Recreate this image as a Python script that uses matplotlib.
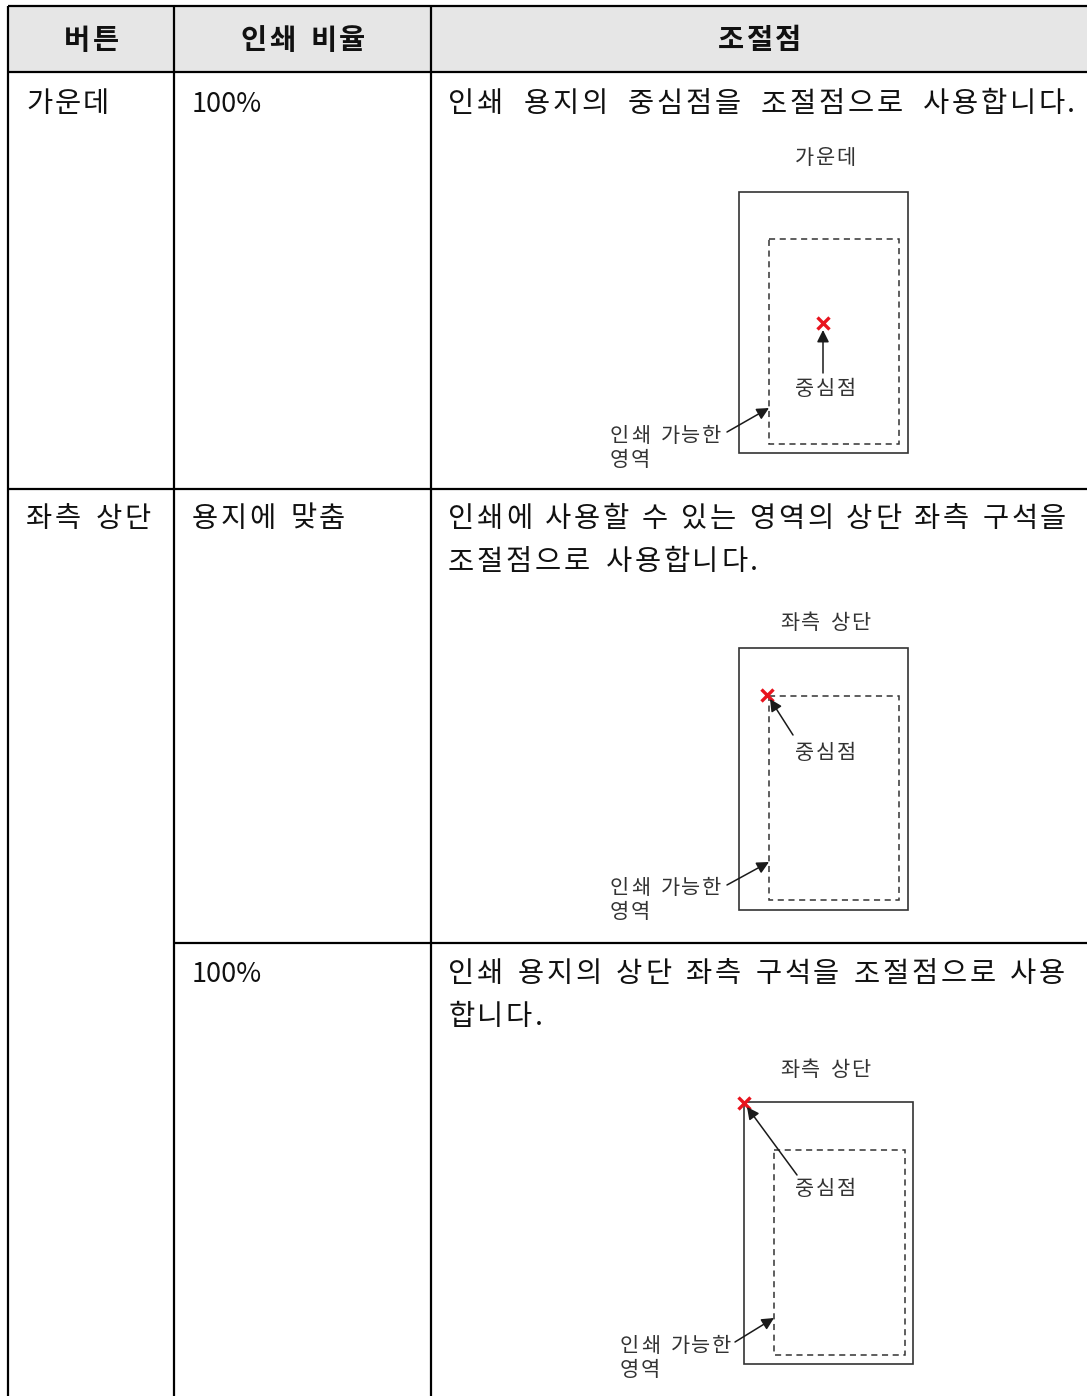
import matplotlib.pyplot as plt
from matplotlib.patches import Rectangle

plt.rcParams['font.family'] = ['Noto Sans CJK KR', 'DejaVu Sans']

headers = ['버튼', '인쇄 비율', '조절점']
buttons = ['가운데', '좌측 상단']
ratios = ['100%', '용지에 맞춤', '100%']
descriptions = [
    ['인쇄 용지의 중심점을 조절점으로 사용합니다.'],
    ['인쇄에 사용할 수 있는 영역의 상단 좌측 구석을', '조절점으로 사용합니다.'],
    ['인쇄 용지의 상단 좌측 구석을 조절점으로 사용', '합니다.'],
]
diagram_titles = ['가운데', '좌측 상단', '좌측 상단']
point_label = '중심점'
area_label = ['인쇄 가능한', '영역']

fig = plt.figure(figsize=(10.87, 13.96), dpi=100)
ax = fig.add_axes([0, 0, 1, 1])
ax.set_xlim(0, 1087)
ax.set_ylim(1396, 0)
ax.axis('off')

ink = '#111111'
grey = '#333333'


def put(x, y, s, size, adv, space, weight='normal', color=ink, right=None):
    # place hangul char by char, fixed advance like the original font
    widths = []
    for c in s:
        if c == ' ':
            widths.append(space)
        elif c in '.%':
            widths.append(adv * 0.4)
        else:
            widths.append(adv)
    if right is not None and s.count(' '):
        extra = (right - x - sum(widths) + adv * 0.1) / s.count(' ')
        widths = [w + extra if c == ' ' else w for c, w in zip(s, widths)]
    cx = x
    for c, w in zip(s, widths):
        if c != ' ':
            ax.text(cx, y, c, fontsize=size, fontweight=weight, color=color,
                    ha='left', va='center')
        cx += w


def put_c(xc, y, s, size, adv, space, **kw):
    n = sum(space if c == ' ' else adv for c in s) - adv * 0.1
    put(xc - n / 2, y, s, size, adv, space, **kw)


# ---- table ----
L, R, T, B = 8, 1087, 6, 1396
c1, c2 = 174, 431
h1, r1, r2 = 72, 489, 943
ax.add_patch(Rectangle((L, T), R - L, h1 - T, fc='#e6e6e6', ec='none'))
lw = 1.6
for x in (L, c1, c2):
    ax.plot([x, x], [T, B], color='black', lw=lw, solid_capstyle='butt')
for y in (T, h1, r1):
    ax.plot([L, R], [y, y], color='black', lw=lw, solid_capstyle='butt')
ax.plot([c1, R], [r2, r2], color='black', lw=lw, solid_capstyle='butt')

fs = 20.5
adv = 28.4
sp = 13
hx = [(L + c1) / 2, (c1 + c2) / 2, (c2 + R) / 2]
for xc, h in zip(hx, headers):
    put_c(xc, 41, h, fs, adv, sp, weight='bold')

row_y = [104, 519, 974]
put(26, row_y[0], buttons[0], fs, adv, sp)
put(26, row_y[1], buttons[1], fs, adv, sp)

for y, r in zip(row_y, ratios):
    if r[0].isdigit():
        ax.text(192, y, r, fontsize=fs - 1, color=ink, ha='left', va='center')
    else:
        put(192, y, r, fs, adv, sp)

line_gap = 43
body_adv = 28.9
rights = [[1076], [1066, None], [1065, None]]
for y, lines, rr in zip(row_y, descriptions, rights):
    for k, (txt, rgt) in enumerate(zip(lines, rr)):
        put(448, y + k * line_gap, txt, fs, body_adv, sp, right=rgt)

# ---- diagrams ----
dfs = 15
dadv = 20.8
dsp = 9
arrow = dict(arrowstyle='-|>', mutation_scale=18, lw=1.1, color='#1a1a1a',
             shrinkA=0, shrinkB=0)

diagrams = [
    dict(title=(825, 158), paper=(739, 192, 908, 453), area=(769, 239, 899, 444),
         mark=(823, 323), label=(825, 389), tail=(823, 373), head=(823, 330),
         alab=(610, 436), atail=(727, 432), ahead=(769, 408)),
    dict(title=(825, 623), paper=(739, 648, 908, 910), area=(769, 696, 899, 900),
         mark=(767, 695), label=(825, 753), tail=(793, 735), head=(770, 699),
         alab=(610, 888), atail=(727, 885), ahead=(769, 862)),
    dict(title=(825, 1070), paper=(744, 1102, 913, 1364), area=(774, 1150, 905, 1355),
         mark=(744, 1103), label=(825, 1189), tail=(797, 1175), head=(747, 1107),
         alab=(620, 1346), atail=(735, 1342), ahead=(774, 1318)),
]

for d, title in zip(diagrams, diagram_titles):
    put_c(d['title'][0], d['title'][1], title, dfs, dadv, dsp, color=grey)
    x0, y0, x1, y1 = d['paper']
    ax.add_patch(Rectangle((x0, y0), x1 - x0, y1 - y0, fc='none', ec=grey, lw=1.2))
    x0, y0, x1, y1 = d['area']
    ax.add_patch(Rectangle((x0, y0), x1 - x0, y1 - y0, fc='none', ec=grey, lw=1.1,
                           ls=(0, (4, 3))))
    ax.annotate('', xy=d['head'], xytext=d['tail'], arrowprops=arrow)
    ax.plot(*d['mark'], marker='x', ms=8.5, mew=2.4, color='#e8141e')
    put_c(d['label'][0], d['label'][1], point_label, dfs, dadv, dsp, color=grey)
    ax.annotate('', xy=d['ahead'], xytext=d['atail'], arrowprops=arrow)
    put(d['alab'][0], d['alab'][1], area_label[0], dfs, dadv, dsp, color=grey)
    put(d['alab'][0], d['alab'][1] + 24, area_label[1], dfs, dadv, dsp, color=grey)

fig.savefig('out.png', dpi=100)
